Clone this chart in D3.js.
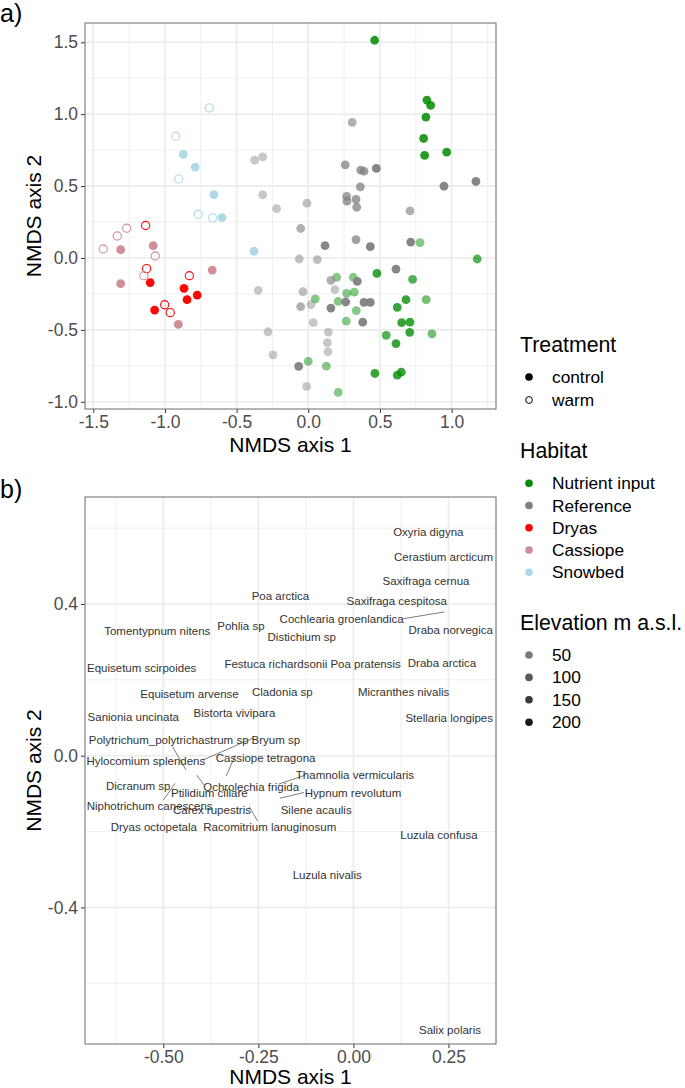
<!DOCTYPE html>
<html><head><meta charset="utf-8">
<script src="https://cdn.jsdelivr.net/npm/d3@7/dist/d3.min.js"></script>
<style>
body{margin:0;background:#fff}
svg{display:block}
text{font-family:"Liberation Sans",Arial,Helvetica,sans-serif}
</style>
</head><body>
<svg id="c" width="685" height="1088"></svg>
<script>
// ---------------- DATA ----------------
const habitats = ["Nutrient input", "Reference", "Dryas", "Cassiope", "Snowbed"];
const habitatColors = ["#008B00", "#808080", "#FF0000", "#CD8C95", "#ADD8E6"];
const treatments = ["control", "warm"];
const elevationBreaks = [50, 100, 150, 200];

// site scores: [NMDS1, NMDS2, treatment, elevation]
const nutrientInput = [
  [0.463,1.514,"control",180],[0.828,1.098,"control",180],[0.854,1.061,"control",180],
  [0.821,0.980,"control",180],[0.805,0.831,"control",180],[0.812,0.713,"control",180],
  [0.966,0.736,"control",180],
  [0.479,-0.107,"control",150],[0.652,-0.450,"control",150],[0.710,-0.446,"control",150],
  [0.621,-0.815,"control",150],[0.649,-0.794,"control",150],[0.612,-0.596,"control",150],
  [0.682,-0.290,"control",150],[0.621,-0.343,"control",150],[0.708,-0.517,"control",150],
  [0.465,-0.803,"control",150],
  [1.179,-0.007,"control",110],[0.728,-0.148,"control",110],[0.544,-0.538,"control",110],
  [0.823,-0.290,"control",60],[0.863,-0.527,"control",60],
  [0.780,0.107,"control",30],[0.198,-0.134,"control",30],[0.314,-0.134,"control",30],
  [0.268,-0.246,"control",30],[0.321,-0.237,"control",30],[0.049,-0.285,"control",30],
  [0.209,-0.302,"control",30],[0.335,-0.366,"control",30],[0.265,-0.439,"control",30],
  [0.000,-0.719,"control",30],[0.126,-0.752,"control",30],[0.209,-0.935,"control",30]
];
const reference = [
  [-0.374,0.680,"control",15],[-0.318,0.703,"control",15],[-0.318,0.439,"control",15],
  [-0.221,0.344,"control",15],[-0.349,-0.225,"control",15],[0.035,-0.450,"control",15],
  [-0.281,-0.513,"control",15],[0.140,-0.515,"control",15],[0.133,-0.589,"control",15],
  [0.137,-0.652,"control",15],[-0.246,-0.673,"control",15],[-0.011,-0.893,"control",15],
  [0.186,-0.220,"control",15],[0.019,-0.325,"control",15],
  [-0.009,0.381,"control",40],[-0.063,-0.007,"control",40],[0.063,-0.011,"control",40],
  [-0.037,-0.234,"control",40],
  [-0.053,0.205,"control",90],[-0.053,-0.339,"control",90],[0.307,0.943,"control",90],
  [0.158,-0.155,"control",90],[0.710,0.327,"control",90],
  [0.258,0.648,"control",140],[0.366,0.611,"control",140],[0.389,0.604,"control",140],
  [0.363,0.494,"control",140],[0.268,0.428,"control",140],[0.270,0.395,"control",140],
  [0.333,0.407,"control",140],[0.338,0.353,"control",140],[0.333,0.128,"control",140],
  [0.475,0.623,"control",220],[0.947,0.499,"control",220],[1.170,0.532,"control",220],
  [0.433,0.079,"control",220],[0.715,0.111,"control",220],[0.612,-0.077,"control",220],
  [0.342,-0.162,"control",220],[0.261,-0.306,"control",220],[0.389,-0.308,"control",220],
  [0.433,-0.308,"control",220],[0.380,-0.446,"control",220],[0.117,0.086,"control",220],
  [0.158,-0.348,"control",220],[-0.067,-0.754,"control",220]
];
const dryas = [
  [-1.135,0.226,"warm",230],[-1.128,-0.074,"warm",230],[-1.002,-0.325,"warm",230],
  [-0.963,-0.380,"warm",230],[-0.830,-0.123,"warm",230],
  [-1.103,-0.171,"control",230],[-1.072,-0.362,"control",230],[-0.867,-0.211,"control",230],
  [-0.846,-0.290,"control",230],[-0.775,-0.258,"control",230]
];
const cassiope = [
  [-1.431,0.063,"warm",230],[-1.333,0.153,"warm",230],[-1.267,0.207,"warm",230],
  [-1.068,0.014,"warm",230],[-1.147,-0.123,"warm",230],
  [-1.309,0.058,"control",230],[-1.082,0.086,"control",230],[-1.309,-0.178,"control",230],
  [-0.670,-0.084,"control",230],[-0.907,-0.462,"control",230]
];
const snowbed = [
  [-0.691,1.044,"warm",230],[-0.925,0.847,"warm",230],[-0.904,0.550,"warm",230],
  [-0.768,0.304,"warm",230],[-0.667,0.279,"warm",230],
  [-0.872,0.720,"control",230],[-0.789,0.632,"control",230],[-0.658,0.441,"control",230],
  [-0.602,0.281,"control",230],[-0.379,0.047,"control",230]
];
const siteGroups = [nutrientInput, reference, dryas, cassiope, snowbed];

const topXTicks = [-1.5, -1.0, -0.5, 0.0, 0.5, 1.0];
const topYTicks = [-1.0, -0.5, 0.0, 0.5, 1.0, 1.5];
const botXTicks = [-0.50, -0.25, 0.00, 0.25];
const botYTicks = [-0.4, 0.0, 0.4];

// species label positions (NMDS1, NMDS2)
const speciesNames = ["Oxyria digyna","Cerastium arcticum","Saxifraga cernua","Poa arctica",
  "Saxifraga cespitosa","Cochlearia groenlandica","Tomentypnum nitens","Pohlia sp",
  "Distichium sp","Draba norvegica","Equisetum scirpoides","Festuca richardsonii",
  "Poa pratensis","Draba arctica","Equisetum arvense","Cladonia sp","Micranthes nivalis",
  "Sanionia uncinata","Bistorta vivipara","Stellaria longipes","Polytrichum_polytrichastrum sp",
  "Bryum sp","Hylocomium splendens","Cassiope tetragona","Thamnolia vermicularis",
  "Ochrolechia frigida","Dicranum sp","Ptilidium ciliare","Hypnum revolutum",
  "Niphotrichum canescens","Carex rupestris","Silene acaulis","Dryas octopetala",
  "Racomitrium lanuginosum","Luzula confusa","Luzula nivalis","Salix polaris"];
const speciesX = [0.197,0.237,0.191,-0.192,0.114,-0.031,-0.516,-0.296,-0.136,0.256,-0.557,
  -0.204,0.032,0.233,-0.431,-0.187,0.132,-0.579,-0.313,0.252,-0.486,-0.204,-0.546,-0.231,
  0.004,-0.269,-0.566,-0.379,-0.001,-0.536,-0.372,-0.098,-0.525,-0.220,0.225,-0.069,0.254];
const speciesY = [0.589,0.525,0.461,0.422,0.407,0.360,0.329,0.341,0.313,0.332,0.232,
  0.242,0.242,0.244,0.163,0.169,0.169,0.101,0.112,0.099,0.041,0.041,-0.013,-0.007,
  -0.051,-0.082,-0.079,-0.097,-0.097,-0.133,-0.143,-0.142,-0.187,-0.187,-0.209,-0.315,-0.723];
// repel segments: [x1, y1, x2, y2] in NMDS units
const repelSegments = [
  [0.130,0.361,0.239,0.379],
  [-0.476,0.024,-0.440,-0.038],
  [-0.395,-0.011,-0.265,0.046],
  [-0.311,0.000,-0.335,-0.054],
  [-0.126,-0.051,-0.197,-0.075],
  [-0.412,-0.051,-0.393,-0.077],
  [-0.130,-0.097,-0.193,-0.112],
  [-0.469,-0.073,-0.500,-0.117],
  [-0.274,-0.135,-0.252,-0.172]
];

// ---------------- DRAWING ----------------
const svg = d3.select("#c");
const alpha = d3.scaleLinear().domain([0, 240]).range([0.4, 1.0]);
const color = d3.scaleOrdinal().domain(habitats).range(habitatColors);

function drawPanel(box, xDom, yDom, xTicks, yTicks, xMinor, yMinor, xFmt, yFmt) {
  const x = d3.scaleLinear().domain(xDom).range([box.l, box.r]);
  const y = d3.scaleLinear().domain(yDom).range([box.b, box.t]);
  const g = svg.append("g");
  g.append("rect").attr("x", box.l).attr("y", box.t).attr("width", box.r - box.l)
    .attr("height", box.b - box.t).attr("fill", "#fff");
  const grid = g.append("g");
  xMinor.forEach(v => grid.append("line").attr("x1", x(v)).attr("x2", x(v))
    .attr("y1", box.t).attr("y2", box.b).attr("stroke", "#EBEBEB").attr("stroke-width", 0.8));
  yMinor.forEach(v => grid.append("line").attr("y1", y(v)).attr("y2", y(v))
    .attr("x1", box.l).attr("x2", box.r).attr("stroke", "#EBEBEB").attr("stroke-width", 0.8));
  xTicks.forEach(v => grid.append("line").attr("x1", x(v)).attr("x2", x(v))
    .attr("y1", box.t).attr("y2", box.b).attr("stroke", "#EBEBEB").attr("stroke-width", 1.6));
  yTicks.forEach(v => grid.append("line").attr("y1", y(v)).attr("y2", y(v))
    .attr("x1", box.l).attr("x2", box.r).attr("stroke", "#EBEBEB").attr("stroke-width", 1.6));

  const ax = g.append("g").attr("transform", `translate(0,${box.b})`)
    .call(d3.axisBottom(x).tickValues(xTicks).tickFormat(xFmt).tickSize(4).tickPadding(3));
  const ay = g.append("g").attr("transform", `translate(${box.l},0)`)
    .call(d3.axisLeft(y).tickValues(yTicks).tickFormat(yFmt).tickSize(4).tickPadding(3));
  [ax, ay].forEach(a => {
    a.select(".domain").remove();
    a.selectAll(".tick line").attr("stroke", "#333").attr("stroke-width", 1);
    a.selectAll(".tick text").attr("fill", "#4D4D4D").attr("font-size", 17.5)
      .attr("font-family", '"Liberation Sans", Arial, sans-serif');
  });
  return {x, y, g, box};
}
function border(p) {
  p.g.append("rect").attr("x", p.box.l).attr("y", p.box.t).attr("width", p.box.r - p.box.l)
    .attr("height", p.box.b - p.box.t).attr("fill", "none").attr("stroke", "#6a6a6a").attr("stroke-width", 1);
}
const fmt1 = d => d.toFixed(1);
const fmt2 = d => d.toFixed(2);

// ---- Panel a ----
const pa = drawPanel({l: 85, r: 496, t: 23, b: 409}, [-1.558, 1.31], [-1.05, 1.634],
  topXTicks, topYTicks, [-1.25, -0.75, -0.25, 0.25, 0.75, 1.25], [-0.75, -0.25, 0.25, 0.75, 1.25],
  fmt1, fmt1);
const pts = pa.g.append("g");
siteGroups.forEach((grp, gi) => {
  const c = habitatColors[gi];
  grp.forEach(d => {
    const el = pts.append("circle").attr("cx", pa.x(d[0])).attr("cy", pa.y(d[1]));
    if (d[2] === "control") {
      el.attr("r", 4.4).attr("fill", c).attr("fill-opacity", alpha(d[3]));
    } else {
      el.attr("r", 4.1).attr("fill", "none").attr("stroke", c).attr("stroke-width", 1.1)
        .attr("stroke-opacity", alpha(d[3]));
    }
  });
});
border(pa);

// ---- Panel b ----
const pb = drawPanel({l: 85, r: 496, t: 497, b: 1044}, [-0.706, 0.375], [-0.760, 0.682],
  botXTicks, botYTicks, [-0.625, -0.375, -0.125, 0.125, 0.375], [-0.6, -0.2, 0.2, 0.6],
  fmt2, fmt1);
pb.g.append("g").selectAll("line").data(repelSegments).join("line")
  .attr("x1", d => pb.x(d[0])).attr("y1", d => pb.y(d[1]))
  .attr("x2", d => pb.x(d[2])).attr("y2", d => pb.y(d[3]))
  .attr("stroke", "#444").attr("stroke-width", 0.7);
pb.g.append("g").selectAll("text").data(speciesNames).join("text")
  .attr("x", (d, i) => pb.x(speciesX[i])).attr("y", (d, i) => pb.y(speciesY[i]))
  .attr("text-anchor", "middle").attr("dominant-baseline", "central")
  .attr("font-size", 11.5).attr("fill", "#333").text(d => d);
border(pb);

// ---- titles ----
function axTitle(txt, x, y, rot) {
  const t = svg.append("text").attr("font-size", 21).attr("fill", "#000").attr("text-anchor", "middle").text(txt);
  if (rot) t.attr("transform", `translate(${x},${y}) rotate(-90)`);
  else t.attr("x", x).attr("y", y);
}
axTitle("NMDS axis 1", (85 + 496) / 2, 452);
axTitle("NMDS axis 2", 41, (23 + 409) / 2, true);
axTitle("NMDS axis 1", (85 + 496) / 2, 1084);
axTitle("NMDS axis 2", 41, (497 + 1044) / 2, true);
svg.append("text").attr("x", 0).attr("y", 22).attr("font-size", 25).text("a)");
svg.append("text").attr("x", 0).attr("y", 498).attr("font-size", 25).text("b)");

// ---- legends ----
const lg = svg.append("g");
const keyX = 529, labX = 552;
function legendTitle(t, y) {
  lg.append("text").attr("x", 520).attr("y", y).attr("font-size", 21.3).attr("fill", "#000").text(t);
}
function legendLabel(t, y) {
  lg.append("text").attr("x", labX).attr("y", y).attr("dy", "0.35em").attr("font-size", 17.3)
    .attr("fill", "#000").text(t);
}
legendTitle("Treatment", 352);
treatments.forEach((t, i) => {
  const y = 377 + i * 23;
  const c = lg.append("circle").attr("cx", keyX).attr("cy", y);
  if (t === "control") c.attr("r", 3.8).attr("fill", "#000");
  else c.attr("r", 3.4).attr("fill", "none").attr("stroke", "#000").attr("stroke-width", 1);
  legendLabel(t, y);
});
legendTitle("Habitat", 458);
habitats.forEach((h, i) => {
  const y = 483.3 + i * 22.25;
  lg.append("circle").attr("cx", keyX).attr("cy", y).attr("r", 3.8).attr("fill", color(h));
  legendLabel(h, y);
});
legendTitle("Elevation m a.s.l.", 630);
elevationBreaks.forEach((e, i) => {
  const y = 655 + i * 22.4;
  lg.append("circle").attr("cx", keyX).attr("cy", y).attr("r", 3.8).attr("fill", "#000")
    .attr("fill-opacity", alpha(e));
  legendLabel(String(e), y);
});
</script>
</body></html>
